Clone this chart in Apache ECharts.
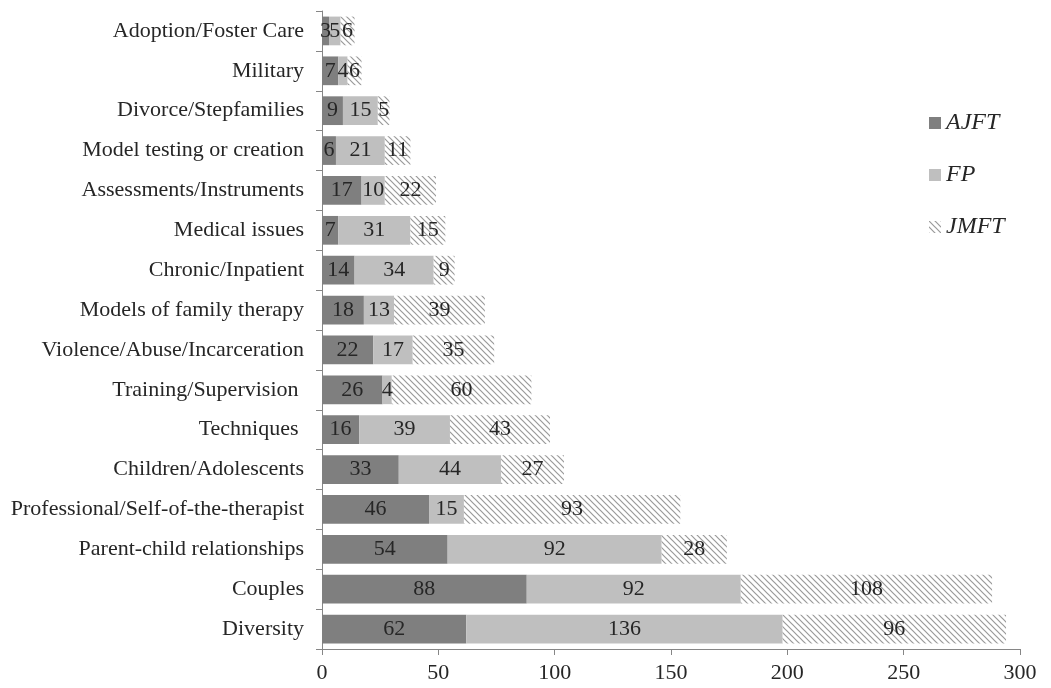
<!DOCTYPE html>
<html>
<head>
<meta charset="utf-8">
<script src="https://cdn.jsdelivr.net/npm/echarts@6/dist/echarts.min.js"></script>
<style>
  html, body { margin: 0; padding: 0; background: #fff; }
  #chart { width: 1051px; height: 688px; }
</style>
</head>
<body>
<div id="chart"></div>
<script>
// categories bottom -> top
const categories = [
  'Diversity', 'Couples', 'Parent-child relationships', 'Professional/Self-of-the-therapist',
  'Children/Adolescents', 'Techniques ', 'Training/Supervision ', 'Violence/Abuse/Incarceration',
  'Models of family therapy', 'Chronic/Inpatient', 'Medical issues', 'Assessments/Instruments',
  'Model testing or creation', 'Divorce/Stepfamilies', 'Military', 'Adoption/Foster Care',
];
const ajft = [62, 88, 54, 46, 33, 16, 26, 22, 18, 14, 7, 17, 6, 9, 7, 3];
const fp = [136, 92, 92, 15, 44, 39, 4, 17, 13, 34, 31, 10, 21, 15, 4, 5];
const jmft = [96, 108, 28, 93, 27, 43, 60, 35, 39, 9, 15, 22, 11, 5, 6, 6];
const xTicks = [0, 50, 100, 150, 200, 250, 300];

// hatched tile for JMFT
function hatch() {
  const c = document.createElement('canvas');
  c.width = 6;
  c.height = 6;
  const ctx = c.getContext('2d');
  ctx.fillStyle = '#ffffff';
  ctx.fillRect(0, 0, 6, 6);
  ctx.strokeStyle = '#9a9a9a';
  ctx.lineWidth = 1.2;
  ctx.beginPath();
  ctx.moveTo(-1, -1); ctx.lineTo(7, 7);
  ctx.moveTo(-1, 5); ctx.lineTo(1, 7);
  ctx.moveTo(5, -1); ctx.lineTo(7, 1);
  ctx.stroke();
  return c;
}

const font = '"Liberation Serif", "Times New Roman", serif';
const fs = 22;

const label = {
  show: true,
  position: 'inside',
  color: '#262626',
  fontFamily: font,
  fontSize: fs,
};

const chart = echarts.init(document.getElementById('chart'));
chart.setOption({
  animation: false,
  textStyle: { fontFamily: font },
  grid: { left: 322, right: 31, top: 11, bottom: 39 },
  legend: {
    orient: 'vertical',
    left: 924,
    top: 106,
    itemWidth: 12,
    itemHeight: 12,
    itemGap: 28,
    icon: 'rect',
    textStyle: { fontFamily: font, fontSize: 24, fontStyle: 'italic', color: '#262626' },
    data: ['AJFT', 'FP', 'JMFT'],
  },
  xAxis: {
    type: 'value',
    min: 0,
    max: 300,
    interval: 50,
    axisLine: { show: true, lineStyle: { color: '#868686' } },
    axisTick: { show: true, length: 6, lineStyle: { color: '#868686' } },
    splitLine: { show: false },
    axisLabel: {
      color: '#262626',
      fontSize: fs,
      fontFamily: font,
      margin: 13,
      formatter: (v) => (xTicks.includes(v) ? String(v) : ''),
    },
  },
  yAxis: {
    type: 'category',
    data: categories,
    axisLine: { show: true, lineStyle: { color: '#868686' } },
    axisTick: { show: true, length: 6, lineStyle: { color: '#868686' } },
    axisLabel: { color: '#262626', fontSize: fs, fontFamily: font, margin: 18 },
  },
  series: [
    {
      name: 'AJFT',
      type: 'bar',
      stack: 'all',
      barWidth: '72%',
      data: ajft,
      itemStyle: { color: '#7f7f7f' },
      label,
    },
    {
      name: 'FP',
      type: 'bar',
      stack: 'all',
      data: fp,
      itemStyle: { color: '#bfbfbf' },
      label,
    },
    {
      name: 'JMFT',
      type: 'bar',
      stack: 'all',
      data: jmft,
      itemStyle: { color: { image: hatch(), repeat: 'repeat' } },
      label,
    },
  ],
});
</script>
</body>
</html>
